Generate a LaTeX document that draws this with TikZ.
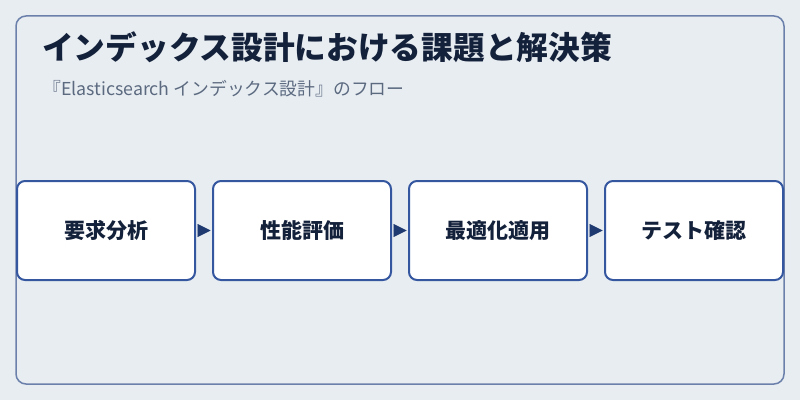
\documentclass[tikz,border=0pt]{standalone}
\usepackage{fontspec}
\setmainfont{Noto Sans CJK JP}
\usetikzlibrary{arrows.meta}
\pgfdeclarelayer{bglayer}
\pgfdeclarelayer{edgelayer}
\pgfdeclarelayer{nodelayer}
\pgfsetlayers{bglayer,edgelayer,nodelayer,main}
\definecolor{bgcol}{HTML}{E8EDF2}
\definecolor{framecol}{HTML}{6B80AA}
\definecolor{boxcol}{HTML}{3557A0}
\definecolor{arrowcol}{HTML}{1F3A70}
\definecolor{titlecol}{HTML}{14213A}
\definecolor{subcol}{HTML}{5C6A80}
\tikzset{font=\fontsize{20pt}{24pt}\selectfont}
\tikzstyle{none}=[inner sep=0pt]
\tikzstyle{stepbox}=[rectangle,rounded corners=8pt,draw=boxcol,line width=2pt,fill=white,minimum width=178pt,minimum height=99pt,text=titlecol,font=\fontsize{21pt}{25pt}\selectfont\bfseries]
\tikzstyle{flow}=[draw=arrowcol,line width=0.2pt,-{Triangle[length=13pt,width=13pt]},fill=arrowcol,shorten <=1.5pt,shorten >=1.5pt]

\begin{document}
\begin{tikzpicture}[x=1pt,y=1pt]
	\begin{pgfonlayer}{bglayer}
		\fill[bgcol] (0,0) rectangle (800,400);
		\draw[framecol,line width=1.5pt,rounded corners=10pt] (16,16) rectangle (784,384);
	\end{pgfonlayer}
	\useasboundingbox (0,0) rectangle (800,400);
	\begin{pgfonlayer}{nodelayer}
		\node [style=none,anchor=west,text=titlecol,font=\fontsize{31.7pt}{36pt}\selectfont\bfseries] (title) at (42,352.5) {インデックス設計における課題と解決策};
		\node [style=none,anchor=west,text=subcol,font=\fontsize{17.8pt}{21pt}\selectfont] (sub) at (43,311.5) {『Elasticsearch インデックス設計』のフロー};
		\node [style=stepbox] (0) at (106,169.5) {要求分析};
		\node [style=stepbox] (1) at (302,169.5) {性能評価};
		\node [style=stepbox] (2) at (498,169.5) {最適化適用};
		\node [style=stepbox] (3) at (694,169.5) {テスト確認};
	\end{pgfonlayer}
	\begin{pgfonlayer}{edgelayer}
		\draw[style=flow] (0.east) to (1.west);
		\draw[style=flow] (1.east) to (2.west);
		\draw[style=flow] (2.east) to (3.west);
	\end{pgfonlayer}
\end{tikzpicture}
\end{document}
